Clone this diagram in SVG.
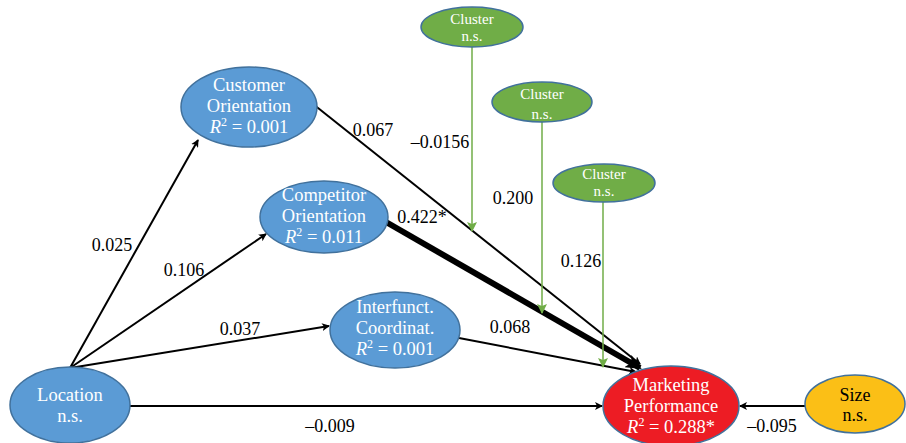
<svg xmlns="http://www.w3.org/2000/svg" width="906" height="443" viewBox="0 0 906 443">
<defs>
<style>
.n{stroke:#41719C;stroke-width:1.5}
.b{fill:#5B9BD5}
.r{fill:#ED1C24}
.y{fill:#FBBF16}
.g{fill:#70AD47}
.t{font-family:"Liberation Serif","Times New Roman",serif;font-size:18.5px;fill:#fff;text-anchor:middle}
.ts{font-family:"Liberation Serif","Times New Roman",serif;font-size:15px;fill:#fff;text-anchor:middle}
.tk{font-family:"Liberation Serif","Times New Roman",serif;font-size:18px;fill:#000;text-anchor:middle}
.l{stroke:#000;stroke-width:2;fill:none;marker-end:url(#a)}
.gl{stroke:#70AD47;stroke-width:1.5;fill:none;marker-end:url(#ga)}
</style>
<marker id="a" markerWidth="8" markerHeight="8" refX="7" refY="4" orient="auto" markerUnits="userSpaceOnUse" viewBox="0 0 8 8"><path d="M0,0 L8,4 L0,8 L2,4 z" fill="#000"/></marker>
<marker id="ak" markerWidth="16" markerHeight="14" refX="14" refY="7" orient="auto" markerUnits="userSpaceOnUse" viewBox="0 0 16 14"><path d="M0,0 L16,7 L0,14 L4,7 z" fill="#000"/></marker>
<marker id="ga" markerWidth="10" markerHeight="10" refX="9" refY="5" orient="auto" markerUnits="userSpaceOnUse" viewBox="0 0 10 10"><path d="M0,0 L10,5 L0,10 L2,5 z" fill="#70AD47"/></marker>
</defs>
<g id="connectors">
<line class="l" x1="70" y1="368" x2="198" y2="140"/>
<line class="l" x1="70" y1="368" x2="266" y2="234"/>
<line class="l" x1="70" y1="368" x2="329" y2="326"/>
<line class="l" x1="130" y1="406" x2="602" y2="406"/>
<line class="l" x1="313" y1="104" x2="640" y2="364"/>
<line x1="386" y1="222" x2="640" y2="368" stroke="#000" stroke-width="6" marker-end="url(#ak)"/>
<line class="l" x1="459" y1="338" x2="636" y2="372"/>
<line class="l" x1="805" y1="406" x2="740" y2="406"/>
<line class="gl" x1="472" y1="47" x2="472" y2="231"/>
<line class="gl" x1="542" y1="122" x2="542" y2="313"/>
<line class="gl" x1="603" y1="202" x2="603" y2="367"/>
<g class="tk">
<text x="373" y="136">0.067</text>
<text x="440" y="148">–0.0156</text>
<text x="513" y="204">0.200</text>
<text x="422" y="223">0.422*</text>
<text x="112" y="251">0.025</text>
<text x="184" y="276">0.106</text>
<text x="240" y="335">0.037</text>
<text x="510" y="333">0.068</text>
<text x="581" y="267">0.126</text>
<text x="330" y="432">–0.009</text>
<text x="772" y="432">–0.095</text>
</g>
</g>
<g id="customer">
<ellipse class="n b" cx="249" cy="107" rx="68" ry="40"/>
<text class="t" x="249" y="91">Customer</text>
<text class="t" x="249" y="112">Orientation</text>
<text class="t" x="249" y="133"><tspan font-style="italic">R</tspan><tspan font-size="12" dy="-7">2</tspan><tspan dy="7"> = 0.001</tspan></text>
</g>
<g id="competitor">
<ellipse class="n b" cx="324" cy="217" rx="64" ry="36"/>
<text class="t" x="324" y="201">Competitor</text>
<text class="t" x="324" y="222">Orientation</text>
<text class="t" x="324" y="243"><tspan font-style="italic">R</tspan><tspan font-size="12" dy="-7">2</tspan><tspan dy="7"> = 0.011</tspan></text>
</g>
<g id="interfunct">
<ellipse class="n b" cx="395" cy="330" rx="65" ry="38"/>
<text class="t" x="395" y="313">Interfunct.</text>
<text class="t" x="395" y="334">Coordinat.</text>
<text class="t" x="395" y="355"><tspan font-style="italic">R</tspan><tspan font-size="12" dy="-7">2</tspan><tspan dy="7"> = 0.001</tspan></text>
</g>
<g id="location">
<ellipse class="n b" cx="70" cy="405" rx="60" ry="38"/>
<text class="t" x="70" y="401">Location</text>
<text class="t" x="70" y="422">n.s.</text>
</g>
<g id="marketing">
<ellipse class="n r" cx="671" cy="406" rx="68" ry="40"/>
<text class="t" x="671" y="391">Marketing</text>
<text class="t" x="671" y="412">Performance</text>
<text class="t" x="671" y="433"><tspan font-style="italic">R</tspan><tspan font-size="12" dy="-7">2</tspan><tspan dy="7"> = 0.288*</tspan></text>
</g>
<g id="size">
<ellipse class="n y" cx="855" cy="404" rx="50" ry="29"/>
<text x="855" y="401" class="tk">Size</text>
<text x="855" y="421" class="tk">n.s.</text>
</g>
<g id="cluster1">
<ellipse class="n g" cx="472" cy="27" rx="51" ry="20"/>
<text class="ts" x="472" y="24">Cluster</text>
<text class="ts" x="472" y="41">n.s.</text>
</g>
<g id="cluster2">
<ellipse class="n g" cx="542" cy="102" rx="50" ry="20"/>
<text class="ts" x="542" y="99">Cluster</text>
<text class="ts" x="542" y="119">n.s.</text>
</g>
<g id="cluster3">
<ellipse class="n g" cx="604" cy="183" rx="51" ry="19"/>
<text class="ts" x="604" y="179">Cluster</text>
<text class="ts" x="604" y="196">n.s.</text>
</g>
</svg>
